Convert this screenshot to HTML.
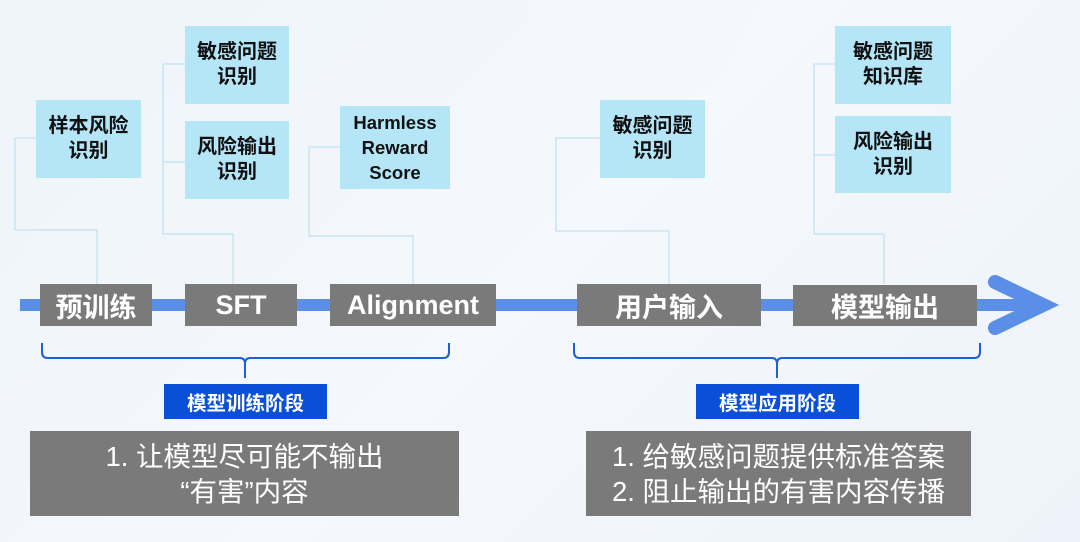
<!DOCTYPE html>
<html><head><meta charset="utf-8"><style>
*{margin:0;padding:0;box-sizing:border-box}
body{width:1080px;height:542px;overflow:hidden;background:linear-gradient(135deg,#eef4fa,#f5f8fc 50%,#edf3fa);position:relative;font-family:"Liberation Sans","Noto Sans CJK SC",sans-serif}
.b{position:absolute;background:#b4e6f7;color:#111;font-size:20px;font-weight:bold;line-height:25px;display:flex;align-items:center;justify-content:center;text-align:center}
.g{position:absolute;background:#7a7a7a;color:#fff;font-size:27px;font-weight:bold;display:flex;align-items:center;justify-content:center}
.l{position:absolute;background:#0a4fd8;color:#fff;font-size:19.5px;font-weight:bold;display:flex;align-items:center;justify-content:center}
.t{position:absolute;background:#7a7a7a;color:#fff;font-size:27.5px;line-height:35px;display:flex;align-items:center;justify-content:center;text-align:center}
svg{position:absolute;left:0;top:0}
</style></head><body>
<svg width="1080" height="542">
<circle cx="640" cy="0" r="110" fill="#f4f7fb"/>
<g fill="none" stroke="#bfe3f2" stroke-width="1.3">
<polyline points="36,138 15,138 15,230 97,230 97,284"/>
<polyline points="185,64 163,64 163,234 233,234 233,284"/>
<line x1="163" y1="162" x2="185" y2="162"/>
<polyline points="340,147 309,147 309,236 413,236 413,284"/>
<polyline points="600,138 556,138 556,231 669,231 669,284"/>
<polyline points="835,64 814,64 814,234 884,234 884,284"/>
<line x1="814" y1="155" x2="835" y2="155"/>
</g>
<rect x="20" y="299" width="1010" height="12" fill="#5b8ee6"/>
<polyline points="995,282 1043,305 995,328" fill="none" stroke="#5b8ee6" stroke-width="14" stroke-linecap="round" stroke-linejoin="miter"/>
<g fill="none" stroke="#1c5fd6" stroke-width="2">
<path d="M42,343 V352 Q42,358 48,358 H240 Q245,358 245,364 V378 M245,364 Q245,358 250,358 H443 Q449,358 449,352 V343"/>
<path d="M574,343 V352 Q574,358 580,358 H772 Q777,358 777,364 V378 M777,364 Q777,358 782,358 H974 Q980,358 980,352 V343"/>
</g>
</svg>
<div class="b" style="left:36px;top:100px;width:105px;height:78px">样本风险<br>识别</div>
<div class="b" style="left:185px;top:26px;width:104px;height:78px">敏感问题<br>识别</div>
<div class="b" style="left:185px;top:121px;width:104px;height:78px">风险输出<br>识别</div>
<div class="b" style="left:340px;top:106px;width:110px;height:83px;font-size:18.5px">Harmless<br>Reward<br>Score</div>
<div class="b" style="left:600px;top:100px;width:105px;height:78px">敏感问题<br>识别</div>
<div class="b" style="left:835px;top:26px;width:116px;height:78px">敏感问题<br>知识库</div>
<div class="b" style="left:835px;top:116px;width:116px;height:77px">风险输出<br>识别</div>
<div class="g" style="left:40px;top:284px;width:112px;height:42px">预训练</div>
<div class="g" style="left:185px;top:284px;width:112px;height:42px">SFT</div>
<div class="g" style="left:330px;top:284px;width:166px;height:42px">Alignment</div>
<div class="g" style="left:577px;top:284px;width:184px;height:42px">用户输入</div>
<div class="g" style="left:793px;top:285px;width:184px;height:41px">模型输出</div>
<div class="l" style="left:164px;top:384px;width:163px;height:35px">模型训练阶段</div>
<div class="l" style="left:696px;top:384px;width:163px;height:35px">模型应用阶段</div>
<div class="t" style="left:30px;top:431px;width:429px;height:85px">1. 让模型尽可能不输出<br>“有害”内容</div>
<div class="t" style="left:586px;top:431px;width:385px;height:85px">1. 给敏感问题提供标准答案<br>2. 阻止输出的有害内容传播</div>
</body></html>
